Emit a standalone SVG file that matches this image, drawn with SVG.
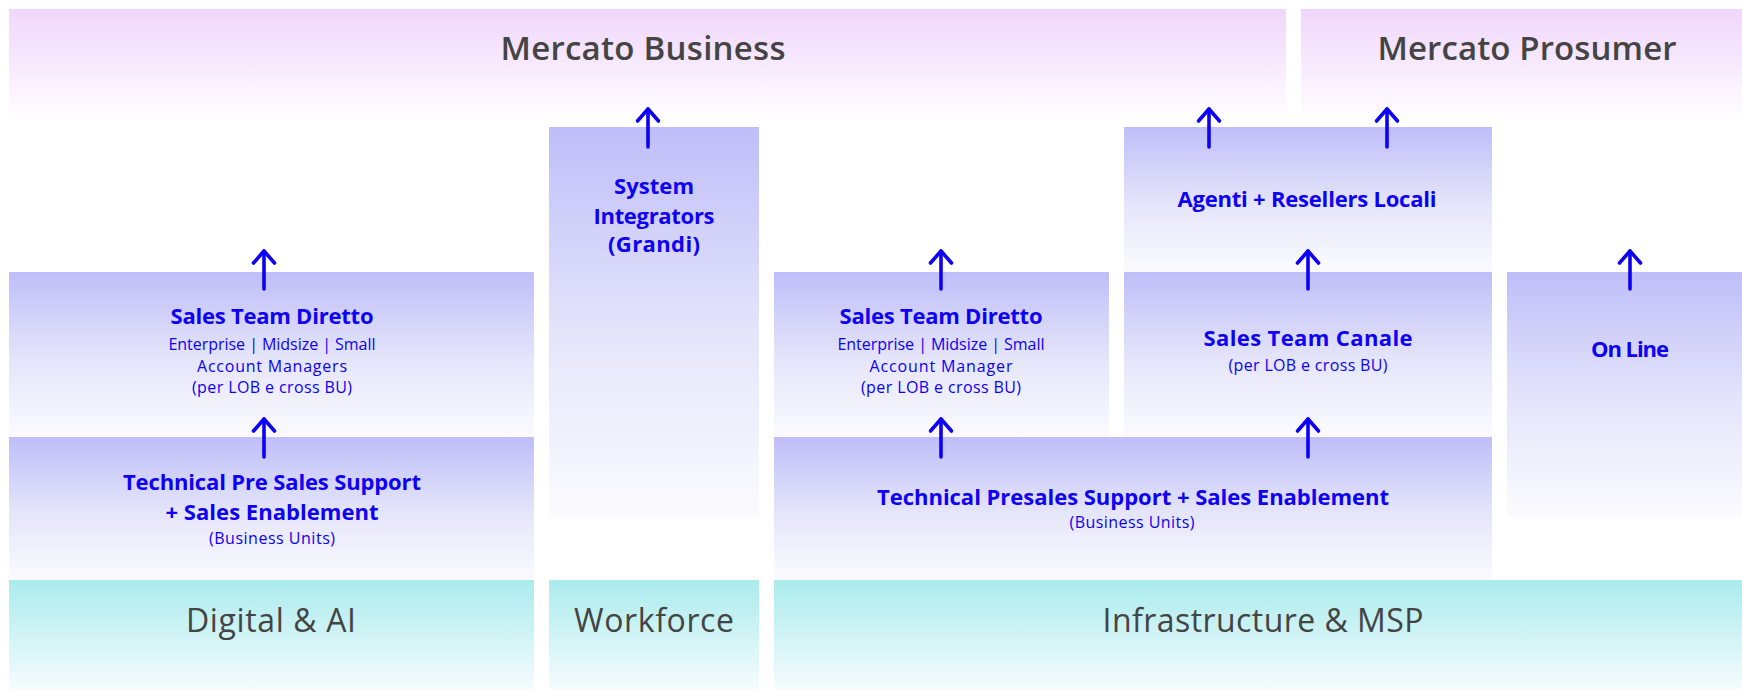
<svg xmlns="http://www.w3.org/2000/svg" width="1742" height="689" viewBox="0 0 1742 689">
<defs>
<linearGradient id="gPurple" x1="0" y1="0" x2="0" y2="1">
<stop offset="0" stop-color="#f0d6fb"/>
<stop offset="1" stop-color="#ffffff"/>
</linearGradient>
<linearGradient id="gBox" x1="0" y1="0" x2="0" y2="1">
<stop offset="0" stop-color="#bfbef9"/>
<stop offset="0.55" stop-color="#e6e6fb"/>
<stop offset="1" stop-color="#fbfbfe"/>
</linearGradient>
<linearGradient id="gTeal" x1="0" y1="0" x2="0" y2="1">
<stop offset="0" stop-color="#abebed"/>
<stop offset="1" stop-color="#f5fcfd"/>
</linearGradient>
<marker id="ah" markerUnits="userSpaceOnUse" viewBox="-16 -16 20 32" refX="0" refY="0" markerWidth="20" markerHeight="32" orient="auto" overflow="visible">
<path d="M-12 -10.5 L0 0 L-12 10.5" fill="none" stroke="#0d00f5" stroke-width="3.6" stroke-linecap="round" stroke-linejoin="round"/>
</marker>
</defs>
<style>
.market{fill:url(#gPurple)}
.box{fill:url(#gBox)}
.bu{fill:url(#gTeal)}
.mt{font-family:"Open Sans","Noto Sans",sans-serif;font-weight:600;font-size:33px;fill:#444444;text-anchor:middle}
.bt{font-family:"Open Sans","Noto Sans",sans-serif;font-weight:400;font-size:32px;fill:#444444;text-anchor:middle}
.h{font-family:"Open Sans","Noto Sans",sans-serif;font-weight:700;font-size:22px;fill:#0d00f5;text-anchor:middle}
.s{font-family:"Open Sans","Noto Sans",sans-serif;font-weight:400;font-size:16px;fill:#0d00f5;text-anchor:middle}
.arr{fill:none;stroke:#0d00f5;stroke-width:3.6;stroke-linecap:round;marker-end:url(#ah)}
</style>
<rect width="1742" height="689" fill="#ffffff"/>

<g id="mercato-business">
<rect class="market" x="9" y="9" width="1277" height="113"/>
<text class="mt" x="643" y="60" textLength="285">Mercato Business</text>
</g>
<g id="mercato-prosumer">
<rect class="market" x="1301" y="9" width="441" height="113"/>
<text class="mt" x="1527" y="60" textLength="299">Mercato Prosumer</text>
</g>

<g id="sales-diretto-digital">
<rect class="box" x="9" y="272" width="525" height="165"/>
<text class="h" x="272" y="324" textLength="203">Sales Team Diretto</text>
<text class="s" x="272" y="350" textLength="207">Enterprise | Midsize | Small</text>
<text class="s" x="272" y="372" textLength="150">Account Managers</text>
<text class="s" x="272" y="393" textLength="160">(per LOB e cross BU)</text>
</g>
<g id="presales-digital">
<rect class="box" x="9" y="437" width="525" height="143"/>
<text class="h" x="272" y="490" textLength="298">Technical Pre Sales Support</text>
<text class="h" x="272" y="520" textLength="213">+ Sales Enablement</text>
<text class="s" x="272" y="544" textLength="126">(Business Units)</text>
</g>
<g id="digital-ai">
<rect class="bu" x="9" y="580" width="525" height="109"/>
<text class="bt" x="271" y="632" textLength="170">Digital &amp; AI</text>
</g>

<g id="system-integrators">
<rect class="box" x="549" y="127" width="210" height="390"/>
<text class="h" x="654" y="194" textLength="80">System</text>
<text class="h" x="654" y="224" textLength="121">Integrators</text>
<text class="h" x="654" y="252" textLength="92">(Grandi)</text>
</g>
<g id="workforce">
<rect class="bu" x="549" y="580" width="210" height="109"/>
<text class="bt" x="654" y="632" textLength="160">Workforce</text>
</g>

<g id="sales-diretto-infra">
<rect class="box" x="774" y="272" width="335" height="165"/>
<text class="h" x="941" y="324" textLength="203">Sales Team Diretto</text>
<text class="s" x="941" y="350" textLength="207">Enterprise | Midsize | Small</text>
<text class="s" x="941" y="372" textLength="143">Account Manager</text>
<text class="s" x="941" y="393" textLength="160">(per LOB e cross BU)</text>
</g>
<g id="agenti-resellers">
<rect class="box" x="1124" y="127" width="368" height="145"/>
<text class="h" x="1307" y="207" textLength="259">Agenti + Resellers Locali</text>
</g>
<g id="sales-canale">
<rect class="box" x="1124" y="272" width="368" height="165"/>
<text class="h" x="1308" y="346" textLength="209">Sales Team Canale</text>
<text class="s" x="1308" y="371" textLength="159">(per LOB e cross BU)</text>
</g>
<g id="presales-infra">
<rect class="box" x="774" y="437" width="718" height="143"/>
<text class="h" x="1133" y="505" textLength="512">Technical Presales Support + Sales Enablement</text>
<text class="s" x="1132" y="528" textLength="125">(Business Units)</text>
</g>
<g id="online">
<rect class="box" x="1507" y="272" width="235" height="245"/>
<text class="h" x="1630" y="357" textLength="78">On Line</text>
</g>
<g id="infrastructure-msp">
<rect class="bu" x="774" y="580" width="968" height="109"/>
<text class="bt" x="1263" y="632" textLength="321">Infrastructure &amp; MSP</text>
</g>

<g id="connectors">
<line class="arr" x1="264" y1="289" x2="264" y2="251"/>
<line class="arr" x1="264" y1="457" x2="264" y2="419"/>
<line class="arr" x1="648" y1="147" x2="648" y2="109"/>
<line class="arr" x1="941" y1="289" x2="941" y2="251"/>
<line class="arr" x1="941" y1="457" x2="941" y2="419"/>
<line class="arr" x1="1209" y1="147" x2="1209" y2="109"/>
<line class="arr" x1="1387" y1="147" x2="1387" y2="109"/>
<line class="arr" x1="1308" y1="289" x2="1308" y2="251"/>
<line class="arr" x1="1308" y1="457" x2="1308" y2="419"/>
<line class="arr" x1="1630" y1="289" x2="1630" y2="251"/>
</g>
</svg>
